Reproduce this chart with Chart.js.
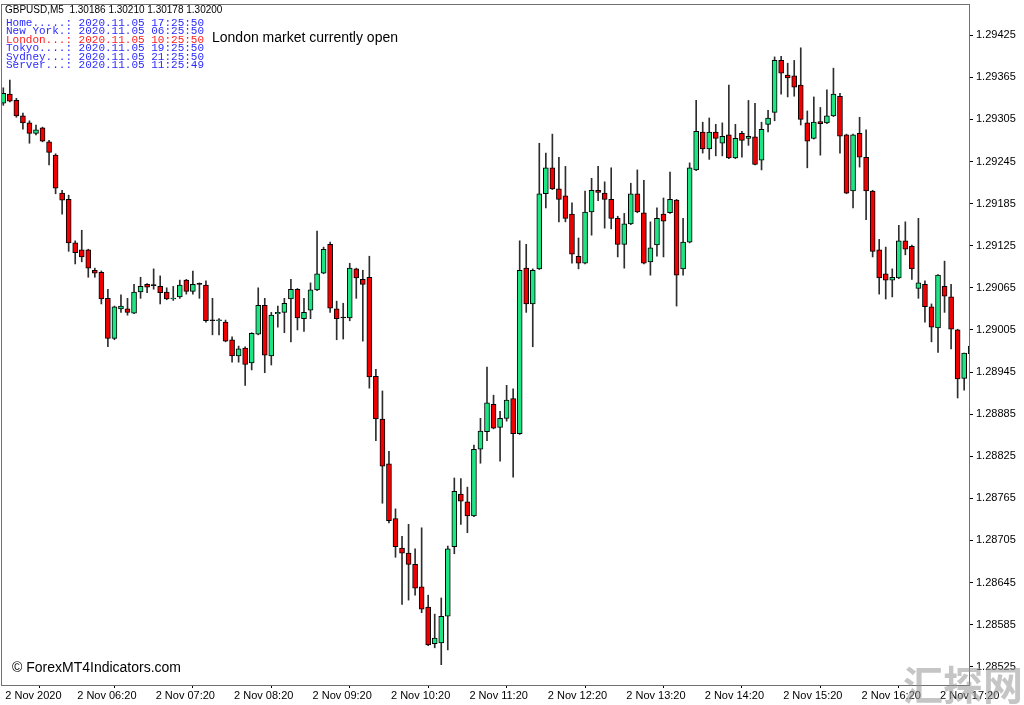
<!DOCTYPE html>
<html>
<head>
<meta charset="utf-8">
<title>GBPUSD,M5</title>
<script src="https://cdn.jsdelivr.net/npm/chart.js@4.4.1/dist/chart.umd.min.js"></script>
<style>
  html, body { margin: 0; padding: 0; background: #fff; }
  canvas { display: block; }
</style>
</head>
<body>
<canvas id="chart" width="1024" height="705"></canvas>
<script>
// --- datos de velas (GBPUSD M5, 2 Nov 2020) ---
const opens = [
  1.29328, 1.29341, 1.29332, 1.29310, 1.29300, 1.29285, 1.29293, 1.29273, 1.29254, 1.29200,
  1.29191, 1.29129, 1.29119, 1.29119, 1.29090, 1.29087, 1.29050, 1.28993, 1.29035, 1.29035,
  1.29029, 1.29059, 1.29070, 1.29068, 1.29067, 1.29059, 1.29049, 1.29052, 1.29076, 1.29060,
  1.29070, 1.29069, 1.29018, 1.29018, 1.29016, 1.28991, 1.28968, 1.28979, 1.28958, 1.28999,
  1.29040, 1.28968, 1.29028, 1.29030, 1.29049, 1.29063, 1.29021, 1.29033, 1.29062, 1.29086,
  1.29127, 1.29035, 1.29022, 1.29022, 1.29092, 1.29077, 1.29080, 1.28939, 1.28878, 1.28814,
  1.28736, 1.28694, 1.28687, 1.28671, 1.28639, 1.28610, 1.28558, 1.28559, 1.28597, 1.28696,
  1.28771, 1.28760, 1.28740, 1.28835, 1.28860, 1.28899, 1.28866, 1.28879, 1.28907, 1.28857,
  1.29093, 1.29042, 1.29092, 1.29199, 1.29236, 1.29206, 1.29196, 1.29170, 1.29110, 1.29100,
  1.29173, 1.29204, 1.29200, 1.29191, 1.29164, 1.29127, 1.29156, 1.29199, 1.29172, 1.29102,
  1.29126, 1.29170, 1.29172, 1.29190, 1.29092, 1.29130, 1.29233, 1.29287, 1.29263, 1.29287,
  1.29271, 1.29283, 1.29250, 1.29285, 1.29278, 1.29280, 1.29247, 1.29298, 1.29315, 1.29389,
  1.29368, 1.29367, 1.29354, 1.29300, 1.29278, 1.29302, 1.29300, 1.29310, 1.29338, 1.29283,
  1.29203, 1.29285, 1.29251, 1.29203, 1.29119, 1.29085, 1.29076, 1.29079, 1.29132, 1.29124,
  1.29064, 1.29070, 1.29038, 1.29008, 1.29067, 1.29052, 1.29005, 1.28936, 1.28971
];
const highs = [
  1.29350, 1.29361, 1.29335, 1.29314, 1.29303, 1.29297, 1.29294, 1.29275, 1.29256, 1.29204,
  1.29197, 1.29132, 1.29147, 1.29120, 1.29093, 1.29089, 1.29063, 1.29039, 1.29055, 1.29050,
  1.29070, 1.29080, 1.29071, 1.29092, 1.29082, 1.29065, 1.29067, 1.29076, 1.29077, 1.29089,
  1.29072, 1.29075, 1.29050, 1.29021, 1.29019, 1.28995, 1.28982, 1.28981, 1.29001, 1.29065,
  1.29050, 1.29030, 1.29039, 1.29050, 1.29077, 1.29064, 1.29050, 1.29072, 1.29146, 1.29123,
  1.29130, 1.29046, 1.29043, 1.29100, 1.29093, 1.29090, 1.29110, 1.28949, 1.28918, 1.28832,
  1.28750, 1.28711, 1.28728, 1.28693, 1.28723, 1.28627, 1.28600, 1.28623, 1.28697, 1.28794,
  1.28793, 1.28781, 1.28841, 1.28879, 1.28952, 1.28912, 1.28889, 1.28926, 1.28921, 1.29132,
  1.29127, 1.29092, 1.29271, 1.29257, 1.29284, 1.29251, 1.29238, 1.29186, 1.29136, 1.29203,
  1.29221, 1.29238, 1.29216, 1.29236, 1.29167, 1.29171, 1.29214, 1.29233, 1.29218, 1.29159,
  1.29179, 1.29193, 1.29230, 1.29191, 1.29164, 1.29243, 1.29332, 1.29301, 1.29307, 1.29298,
  1.29300, 1.29354, 1.29298, 1.29288, 1.29332, 1.29328, 1.29301, 1.29318, 1.29394, 1.29395,
  1.29385, 1.29389, 1.29407, 1.29317, 1.29337, 1.29322, 1.29347, 1.29378, 1.29342, 1.29284,
  1.29284, 1.29308, 1.29290, 1.29204, 1.29134, 1.29123, 1.29092, 1.29154, 1.29159, 1.29126,
  1.29164, 1.29075, 1.29042, 1.29084, 1.29103, 1.29070, 1.29006, 1.28972, 1.28999
];
const lows = [
  1.29325, 1.29330, 1.29308, 1.29291, 1.29271, 1.29283, 1.29273, 1.29240, 1.29199, 1.29170,
  1.29117, 1.29099, 1.29102, 1.29080, 1.29080, 1.29042, 1.28981, 1.28991, 1.29030, 1.29026,
  1.29028, 1.29050, 1.29058, 1.29063, 1.29042, 1.29048, 1.29047, 1.29050, 1.29056, 1.29056,
  1.29050, 1.29016, 1.28998, 1.28998, 1.28988, 1.28959, 1.28959, 1.28926, 1.28948, 1.28998,
  1.28944, 1.28955, 1.29009, 1.29001, 1.28988, 1.29005, 1.29003, 1.29021, 1.29061, 1.29085,
  1.29030, 1.28991, 1.28992, 1.29018, 1.29050, 1.28989, 1.28922, 1.28847, 1.28758, 1.28730,
  1.28681, 1.28614, 1.28620, 1.28627, 1.28602, 1.28555, 1.28552, 1.28528, 1.28549, 1.28686,
  1.28728, 1.28716, 1.28739, 1.28815, 1.28847, 1.28864, 1.28818, 1.28875, 1.28795, 1.28856,
  1.29030, 1.28981, 1.29091, 1.29179, 1.29205, 1.29159, 1.29159, 1.29100, 1.29092, 1.29099,
  1.29140, 1.29189, 1.29150, 1.29149, 1.29109, 1.29093, 1.29155, 1.29172, 1.29099, 1.29083,
  1.29110, 1.29109, 1.29171, 1.29039, 1.29083, 1.29129, 1.29232, 1.29257, 1.29248, 1.29253,
  1.29253, 1.29249, 1.29249, 1.29251, 1.29268, 1.29240, 1.29233, 1.29287, 1.29303, 1.29341,
  1.29337, 1.29338, 1.29297, 1.29236, 1.29277, 1.29254, 1.29299, 1.29309, 1.29257, 1.29199,
  1.29179, 1.29237, 1.29162, 1.29109, 1.29056, 1.29049, 1.29052, 1.29078, 1.29112, 1.29077,
  1.29050, 1.29016, 1.28988, 1.28973, 1.29030, 1.28978, 1.28908, 1.28919, 1.28959
];
const closes = [
  1.29342, 1.29331, 1.29310, 1.29300, 1.29285, 1.29290, 1.29274, 1.29258, 1.29207, 1.29190,
  1.29129, 1.29115, 1.29109, 1.29093, 1.29086, 1.29049, 1.28993, 1.29038, 1.29039, 1.29030,
  1.29059, 1.29067, 1.29066, 1.29068, 1.29058, 1.29049, 1.29050, 1.29069, 1.29060, 1.29070,
  1.29070, 1.29018, 1.29018, 1.29019, 1.28989, 1.28968, 1.28978, 1.28956, 1.29000, 1.29040,
  1.28969, 1.29026, 1.29030, 1.29043, 1.29063, 1.29022, 1.29030, 1.29062, 1.29085, 1.29120,
  1.29036, 1.29021, 1.29022, 1.29093, 1.29079, 1.29070, 1.28938, 1.28878, 1.28811, 1.28733,
  1.28696, 1.28687, 1.28671, 1.28637, 1.28607, 1.28556, 1.28566, 1.28597, 1.28693, 1.28775,
  1.28761, 1.28740, 1.28835, 1.28861, 1.28901, 1.28865, 1.28879, 1.28905, 1.28857, 1.29090,
  1.29042, 1.29090, 1.29199, 1.29236, 1.29206, 1.29191, 1.29164, 1.29113, 1.29100, 1.29173,
  1.29204, 1.29201, 1.29191, 1.29164, 1.29127, 1.29156, 1.29199, 1.29173, 1.29100, 1.29122,
  1.29164, 1.29160, 1.29191, 1.29083, 1.29130, 1.29236, 1.29288, 1.29263, 1.29287, 1.29278,
  1.29281, 1.29250, 1.29278, 1.29275, 1.29281, 1.29241, 1.29291, 1.29307, 1.29389, 1.29371,
  1.29364, 1.29351, 1.29305, 1.29274, 1.29301, 1.29299, 1.29310, 1.29341, 1.29281, 1.29200,
  1.29283, 1.29251, 1.29203, 1.29117, 1.29079, 1.29076, 1.29080, 1.29132, 1.29120, 1.29092,
  1.29072, 1.29038, 1.29009, 1.29083, 1.29053, 1.29006, 1.28935, 1.28972, 1.28982
];
// escala de precios (eje derecho)
const priceTicks = [
  1.28525, 1.28585, 1.28645, 1.28705, 1.28765, 1.28825, 1.28885, 1.28945,
  1.29005, 1.29065, 1.29125, 1.29185, 1.29245, 1.29305, 1.29365, 1.29425
];
// textos de cabecera y relojes
const headerText = 'GBPUSD,M5  1.30186 1.30210 1.30178 1.30200';
const clockNames = ['Home.....', 'New York.', 'London...', 'Tokyo....', 'Sydney...', 'Server...'];
const clockTimes = ['2020.11.05 17:25:50', '2020.11.05 06:25:50', '2020.11.05 10:25:50',
                    '2020.11.05 19:25:50', '2020.11.05 21:25:50', '2020.11.05 11:25:49'];
const marketText = 'London market currently open';
const firstBarMinute = 5 * 60 + 25; // primera vela 05:25
const dayLabel = '2 Nov';
const firstDateLabel = '2 Nov 2020';

// horas de cada vela (5 min)
const barTimes = opens.map((_, i) => {
  const m = firstBarMinute + 5 * i;
  return String(Math.floor(m / 60)).padStart(2, '0') + ':' + String(m % 60).padStart(2, '0');
});
const timeTickIdx = [0];
barTimes.forEach((t, i) => { if (i > 4 && t.endsWith(':20')) timeTickIdx.push(i); });
const timeLabel = i => (i === 0 ? firstDateLabel : dayLabel + ' ' + barTimes[i]);

const bodyColors = opens.map((o, i) => closes[i] > o ? '#1de584' : (closes[i] < o ? '#f00000' : '#000'));

const axisFont = { family: '"Liberation Sans", Arial, sans-serif', size: 11 };

const overlay = {
  id: 'overlay',
  afterDatasetsDraw(chart) {
    const { ctx, chartArea: a } = chart;
    ctx.save();
    ctx.strokeStyle = '#707070';
    ctx.lineWidth = 1;
    ctx.strokeRect(a.left - 0.5, a.top - 0.5, a.right - a.left + 1, a.bottom - a.top + 1);
    ctx.restore();
  },
  afterDraw(chart) {
    const ctx = chart.ctx;
    ctx.save();
    ctx.textBaseline = 'middle';
    ctx.fillStyle = '#000';
    ctx.font = '10px "Liberation Sans", Arial, sans-serif';
    ctx.fillText(headerText, 5, 10.5);
    ctx.font = '11px "Liberation Mono", "DejaVu Sans Mono", monospace';
    clockNames.forEach((n, i) => {
      ctx.fillStyle = n.startsWith('London') ? '#ff2020' : '#2b2bff';
      ctx.fillText(n + ': ' + clockTimes[i], 6, 23 + i * 8.4);
    });
    ctx.fillStyle = '#000';
    ctx.font = '14px "Liberation Sans", Arial, sans-serif';
    ctx.fillText(marketText, 212, 38);
    ctx.fillText('\u00a9 ForexMT4Indicators.com', 12, 668);
    // marca de agua
    ctx.font = 'bold 40px "Noto Sans CJK SC", sans-serif';
    ctx.fillStyle = 'rgba(150,150,150,0.55)';
    ctx.textBaseline = 'alphabetic';
    ctx.fillText('汇探网', 903, 700);
    ctx.restore();
  }
};

const ctx = document.getElementById('chart').getContext('2d');
window.chartVelas = new Chart(ctx, {
  type: 'bar',
  data: {
    datasets: [
      {
        label: 'Mechas',
        data: highs.map((h, i) => ({ x: i, y: [lows[i], h] })),
        backgroundColor: '#2e2e2e',
        barThickness: 1,
        grouped: false,
        clip: 0,
        order: 2
      },
      {
        label: 'Cuerpos',
        data: opens.map((o, i) => ({ x: i, y: [o, closes[i]] })),
        backgroundColor: bodyColors,
        borderColor: '#000',
        borderWidth: 1,
        borderSkipped: false,
        barThickness: 5,
        minBarLength: 1,
        grouped: false,
        clip: 0,
        order: 1
      }
    ]
  },
  options: {
    responsive: false,
    animation: false,
    layout: { padding: { left: 2, top: 5, right: 0, bottom: 0 } },
    plugins: { legend: { display: false }, tooltip: { enabled: false } },
    scales: {
      x: {
        type: 'linear',
        min: -0.2,
        max: 147.74,
        offset: false,
        border: { display: false },
        grid: { drawOnChartArea: false, tickLength: 3, color: '#000' },
        afterBuildTicks: s => { s.ticks = timeTickIdx.map(v => ({ value: v })); },
        afterFit: s => { s.height = 20; s.paddingLeft = 0; s.paddingRight = 0; },
        ticks: {
          autoSkip: false,
          maxRotation: 0,
          align: 'start',
          labelOffset: 2,
          padding: 1,
          color: '#000',
          font: axisFont,
          callback: v => timeLabel(v)
        }
      },
      y: {
        position: 'right',
        min: 1.28499,
        max: 1.29468,
        border: { display: false },
        grid: { drawOnChartArea: false, tickLength: 4, color: '#000' },
        afterBuildTicks: s => { s.ticks = priceTicks.map(v => ({ value: v })); },
        afterFit: s => { s.width = 55; s.paddingTop = 0; s.paddingBottom = 0; },
        ticks: {
          padding: 3,
          color: '#000',
          font: axisFont,
          callback: v => v.toFixed(5)
        }
      }
    }
  },
  plugins: [overlay]
});
</script>
</body>
</html>
